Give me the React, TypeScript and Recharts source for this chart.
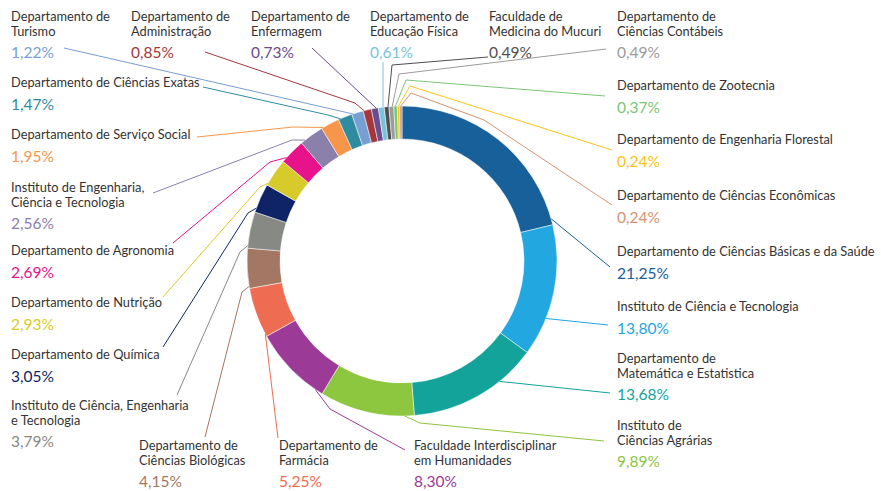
import React from "react";
import { PieChart, Pie, Cell } from "recharts";

const names: string[] = [
  "Departamento de Ciências Básicas e da Saúde",
  "Instituto de Ciência e Tecnologia",
  "Departamento de|Matemática e Estatistica",
  "Instituto de|Ciências Agrárias",
  "Faculdade Interdisciplinar|em Humanidades",
  "Departamento de|Farmácia",
  "Departamento de|Ciências Biológicas",
  "Instituto de Ciência, Engenharia|e Tecnologia",
  "Departamento de Química",
  "Departamento de Nutrição",
  "Departamento de Agronomia",
  "Instituto de Engenharia,|Ciência e Tecnologia",
  "Departamento de Serviço Social",
  "Departamento de Ciências Exatas",
  "Departamento de|Turismo",
  "Departamento de|Administração",
  "Departamento de|Enfermagem",
  "Departamento de|Educação Física",
  "Faculdade de|Medicina do Mucuri",
  "Departamento de|Ciências Contábeis",
  "Departamento de Zootecnia",
  "Departamento de Engenharia Florestal",
  "Departamento de Ciências Econômicas",
];

const values: number[] = [
  21.25, 13.8, 13.68, 9.89, 8.3, 5.25, 4.15, 3.79, 3.05, 2.93, 2.69, 2.56,
  1.95, 1.47, 1.22, 0.85, 0.73, 0.61, 0.49, 0.49, 0.37, 0.24, 0.24,
];

const colors: string[] = [
  "#17609a", "#22a7e0", "#13a39a", "#8dc63f", "#9b3a97", "#ee6c52",
  "#a37763", "#878985", "#0f2466", "#d6cb2a", "#e8128a", "#8a80ab",
  "#f7964b", "#2f8ca0", "#789fd2", "#a5363c", "#6a4b8d", "#79c4dc",
  "#4f4f4d", "#9b9b9b", "#7cc576", "#fcc31a", "#d49471",
];

// label layout: text position, where along the slice the leader starts, leader bend/end points
const labelLayout: { tx: number; ty: number; frac: number; pts: number[][] }[] = [
  { tx: 617, ty: 256, frac: 0.97, pts: [[610, 267]] },
  { tx: 617, ty: 311, frac: 0.71, pts: [[608, 325]] },
  { tx: 617, ty: 363, frac: 0.3, pts: [[610, 393]] },
  { tx: 617, ty: 430, frac: 0.1, pts: [[420, 423], [604, 441]] },
  { tx: 414, ty: 450, frac: 0.1, pts: [[330, 409], [405, 450]] },
  { tx: 279, ty: 450, frac: 0.05, pts: [[278, 438]] },
  { tx: 139, ty: 450, frac: 0.05, pts: [[242, 292], [205, 437]] },
  { tx: 11, ty: 410, frac: 0.07, pts: [[240, 252], [177, 395]] },
  { tx: 11, ty: 359, frac: 0.14, pts: [[248, 213], [163, 347]] },
  { tx: 11, ty: 307, frac: 0.07, pts: [[260, 187], [163, 297]] },
  { tx: 11, ty: 255, frac: 0.2, pts: [[270, 162], [173, 243]] },
  { tx: 11, ty: 192, frac: 0.18, pts: [[292, 140], [153, 193]] },
  { tx: 11, ty: 139, frac: 0.09, pts: [[293, 127], [197, 137]] },
  { tx: 11, ty: 87, frac: 0.13, pts: [[328, 115], [203, 87]] },
  { tx: 11, ty: 21, frac: 0.1, pts: [[64, 48]] },
  { tx: 131, ty: 21, frac: 0.1, pts: [[355, 103], [205, 52]] },
  { tx: 251, ty: 21, frac: 0.7, pts: [[312, 48]] },
  { tx: 370, ty: 21, frac: 0.8, pts: [[383, 62]] },
  { tx: 489, ty: 21, frac: 0.8, pts: [[392, 65], [488, 57]] },
  { tx: 617, ty: 21, frac: 0.7, pts: [[399, 74], [606, 49]] },
  { tx: 617, ty: 90, frac: 0.5, pts: [[406, 80], [605, 96]] },
  { tx: 617, ty: 144, frac: 0.5, pts: [[410, 86], [612, 150]] },
  { tx: 617, ty: 200, frac: 0.5, pts: [[411, 93], [484, 120], [612, 205]] },
];

const data = names.map((n, i) => ({ name: n, value: values[i] }));

const FONT = "Lato, 'Noto Sans', sans-serif";
const RAD = Math.PI / 180;

const renderLabel = (props: any) => {
  const { cx, cy, outerRadius, startAngle, endAngle, index } = props;
  const lay = labelLayout[index];
  const color = colors[index];
  const a = startAngle + lay.frac * (endAngle - startAngle);
  const sx = cx + outerRadius * Math.cos(-a * RAD);
  const sy = cy + outerRadius * Math.sin(-a * RAD);
  const pts = [[sx, sy], ...lay.pts].map((p) => p.join(",")).join(" ");
  const lines = names[index].split("|");
  const pctY = lay.ty + (lines.length - 1) * 14.5 + 22.5;
  const pct = values[index].toFixed(2).replace(".", ",") + "%";
  return (
    <g key={`lbl-${index}`}>
      <polyline points={pts} fill="none" stroke={color} strokeWidth={1} />
      {lines.map((l, k) => (
        <text
          key={k}
          x={lay.tx}
          y={lay.ty + k * 14.5}
          fill="#333333"
          fontSize={12.8}
          fontFamily={FONT}
          textAnchor="start"
        >
          {l}
        </text>
      ))}
      <text
        x={lay.tx}
        y={pctY}
        fill={color}
        fontSize={15.5}
        fontFamily={FONT}
        textAnchor="start"
      >
        {pct}
      </text>
    </g>
  );
};

export default function App() {
  return (
    <div style={{ position: "absolute", left: 0, top: 0, width: 881, height: 491, background: "#fff" }}>
      <PieChart width={881} height={491} margin={{ top: 0, right: 0, bottom: 0, left: 0 }}>
        <Pie
          data={data}
          dataKey="value"
          nameKey="name"
          cx={402}
          cy={261}
          innerRadius={122}
          outerRadius={155}
          startAngle={90}
          endAngle={-270}
          stroke="#ffffff"
          strokeWidth={0.5}
          isAnimationActive={false}
          label={renderLabel}
          labelLine={false}
        >
          {data.map((d, i) => (
            <Cell key={d.name} fill={colors[i]} />
          ))}
        </Pie>
      </PieChart>
    </div>
  );
}
